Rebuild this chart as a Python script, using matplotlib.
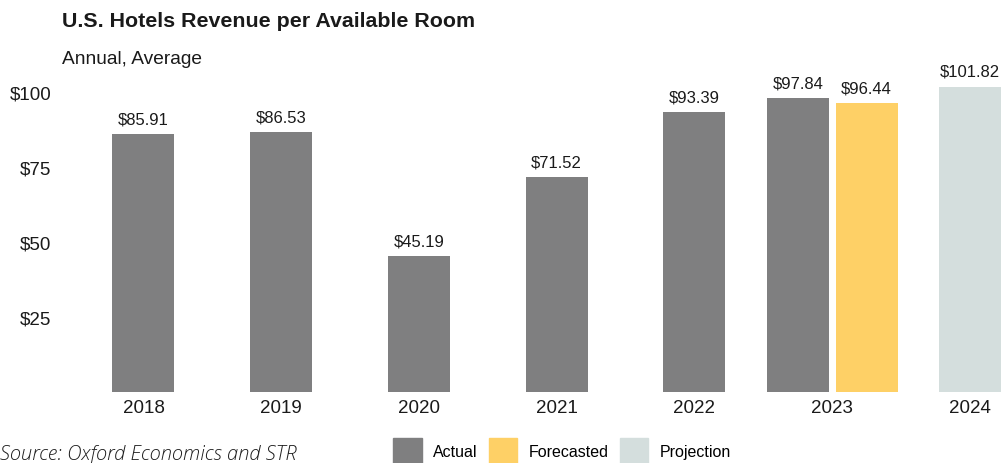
import numpy as np
import matplotlib.pyplot as plt
from matplotlib.patches import Patch

years = ["2018", "2019", "2020", "2021", "2022", "2023", "2024"]
actual_years = ["2018", "2019", "2020", "2021", "2022", "2023"]
actual = [85.91, 86.53, 45.19, 71.52, 93.39, 97.84]
forecast_years = ["2023"]
forecast = [96.44]
projection_years = ["2024"]
projection = [101.82]

GRAY = "#7f7f80"
YELLOW = "#fed066"
PALE = "#d4dedd"

plt.rcParams["font.family"] = ["Liberation Sans", "DejaVu Sans"]

W, H = 1001, 464
fig = plt.figure(figsize=(W / 100, H / 100), dpi=100)

# axes placed in pixel terms: left 60, right 1001, bottom 393, top 80
ax = fig.add_axes([60 / W, (H - 393) / H, (W - 60) / W, (393 - 80) / H])

pos = {y: i for i, y in enumerate(years)}
width = 0.45
shift = 0.25

xa = [pos[y] - (shift if y in forecast_years else 0) for y in actual_years]
xf = [pos[y] + shift for y in forecast_years]
xp = [pos[y] for y in projection_years]

b1 = ax.bar(xa, actual, width, color=GRAY, label="Actual")
b2 = ax.bar(xf, forecast, width, color=YELLOW, label="Forecasted")
b3 = ax.bar(xp, projection, width, color=PALE, label="Projection")

for bars in (b1, b2, b3):
    ax.bar_label(bars, labels=[f"${v:.2f}" for v in bars.datavalues],
                 padding=5.5, fontsize=12, color="#1a1a1a")

ax.set_xlim(-0.606, 6.226)
ax.set_ylim(0, 104.33)
ax.set_xticks(range(len(years)))
ax.set_xticklabels(years)
ax.set_yticks([25, 50, 75, 100])
ax.set_yticklabels([f"${t}" for t in [25, 50, 75, 100]])
ax.tick_params(axis="both", length=0, labelsize=13.5, colors="#1a1a1a")
ax.tick_params(axis="x", pad=5)
ax.tick_params(axis="y", pad=6)
for s in ax.spines.values():
    s.set_visible(False)

fig.text(62 / W, (H - 27) / H, "U.S. Hotels Revenue per Available Room",
         fontsize=15.4, fontweight="bold", color="#1a1a1a", va="baseline")
fig.text(62 / W, (H - 64) / H, "Annual, Average",
         fontsize=13.8, color="#1a1a1a", va="baseline")
fig.text(0, (H - 455) / H, "Source: Oxford Economics and STR",
         fontsize=14.5, style="italic", fontweight="light", color="#1e1e1e",
         family=["Open Sans", "DejaVu Sans"], va="center")

handles = [Patch(color=GRAY), Patch(color=YELLOW), Patch(color=PALE)]
fig.legend(handles, ["Actual", "Forecasted", "Projection"], ncol=3,
           loc="lower left", bbox_to_anchor=(393 / W, 0), frameon=False,
           fontsize=11.5, handlelength=1.8, handleheight=2.0,
           handletextpad=0.7, columnspacing=0.7, borderpad=0,
           borderaxespad=0)

fig.savefig("out.png", dpi=100)
